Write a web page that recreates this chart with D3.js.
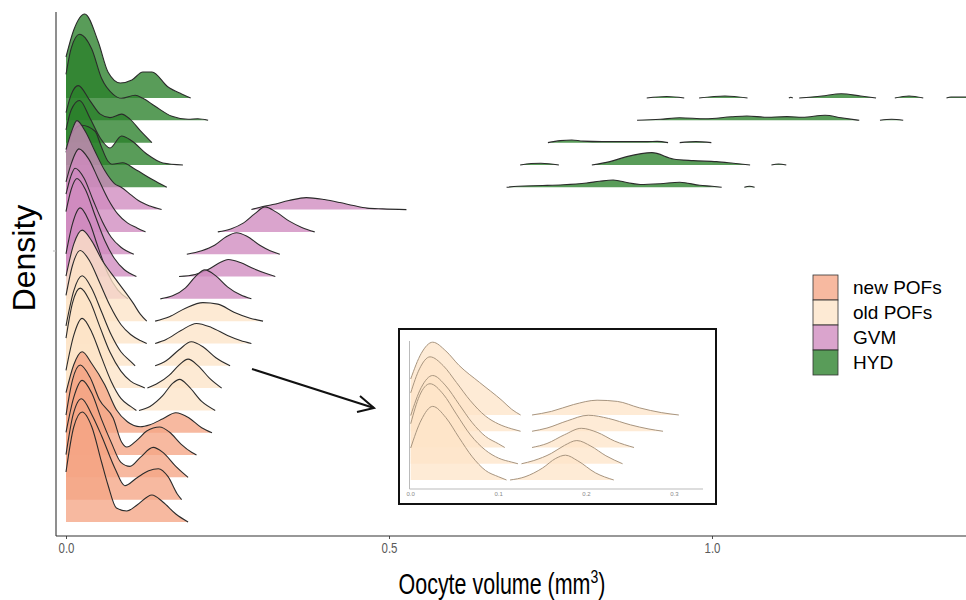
<!DOCTYPE html>
<html>
<head>
<meta charset="utf-8">
<script src="https://cdn.jsdelivr.net/npm/d3@7"></script>
<style>
  body { margin: 0; background: #fff; }
  text { font-family: "Liberation Sans", Arial, sans-serif; }
</style>
</head>
<body>
<svg class="ridges" width="966" height="600"></svg>
<script>
// legend groups, top to bottom
let groups = ["new POFs", "old POFs", "GVM", "HYD"];
let groupFill = ["#f5a585", "#fde4c8", "#d08abf", "#2a802a"];

// ridge rows, top to bottom, and the group of each
let rowNames = ["HYD1", "HYD2", "HYD3", "HYD4", "HYD5",
                "GVM1", "GVM2", "GVM3", "GVM4", "GVM5",
                "OP1", "OP2", "OP3", "OP4", "OP5",
                "NP1", "NP2", "NP3", "NP4", "NP5"];
let rowGroup = ["HYD", "HYD", "HYD", "HYD", "HYD",
                "GVM", "GVM", "GVM", "GVM", "GVM",
                "old POFs", "old POFs", "old POFs", "old POFs", "old POFs",
                "new POFs", "new POFs", "new POFs", "new POFs", "new POFs"];

let xTicks = [0, 0.5, 1.0];
let insetTicks = [0, 0.1, 0.2, 0.3];

// each ridge = list of segments, each segment = [volume (mm3), density]
let hyd1 = [
  [[0, 8.2], [0.012, 13.6], [0.029, 16.8], [0.05, 11.2], [0.065, 5.2], [0.084, 3.0], [0.102, 3.6], [0.119, 5.2], [0.133, 5.2], [0.158, 2.2], [0.179, 0.8], [0.193, 0]],
  [[0.899, 0], [0.93, 0.3], [0.957, 0]],
  [[0.98, 0], [1.02, 0.4], [1.055, 0]],
  [[1.119, 0], [1.122, 0.15], [1.125, 0]],
  [[1.135, 0], [1.17, 0.4], [1.2, 0.86], [1.23, 0.4], [1.254, 0]],
  [[1.283, 0], [1.305, 0.4], [1.327, 0]],
  [[1.363, 0], [1.37, 0.2], [1.40, 0.2]]
];
let hyd2 = [
  [[0, 9.2], [0.008, 14.4], [0.021, 17.2], [0.04, 14.2], [0.055, 8.4], [0.073, 5.2], [0.086, 4.4], [0.107, 5.0], [0.119, 4.4], [0.138, 2.8], [0.164, 0.8], [0.189, 0.2], [0.204, 0.3], [0.22, 0]],
  [[0.884, 0], [0.92, 0.2], [0.95, 0.5], [0.99, 0.3], [1.03, 0.7], [1.054, 0.86], [1.085, 0.6], [1.116, 0.74], [1.14, 0.6], [1.175, 1.0], [1.2, 0.5], [1.228, 0]],
  [[1.26, 0], [1.278, 0.2], [1.296, 0]]
];
let hyd3 = [
  [[0, 6.0], [0.008, 9.6], [0.019, 11.4], [0.037, 8.4], [0.053, 5.7], [0.068, 5.0], [0.086, 5.7], [0.099, 4.7], [0.115, 2.4], [0.133, 0]],
  [[0.746, 0], [0.765, 0.4], [0.783, 0.54], [0.80, 0.3], [0.83, 0.2], [0.87, 0.2], [0.90, 0.2], [0.915, 0.26], [0.932, 0]],
  [[0.95, 0], [0.975, 0.2], [0.999, 0]]
];
let hyd4 = [
  [[0, 7.0], [0.008, 11.0], [0.021, 12.9], [0.037, 9.4], [0.053, 5.4], [0.068, 3.4], [0.086, 5.8], [0.102, 4.8], [0.125, 2.2], [0.15, 0.4], [0.181, 0]],
  [[0.703, 0], [0.72, 0.3], [0.735, 0.34], [0.763, 0]],
  [[0.814, 0], [0.842, 0.66], [0.868, 1.66], [0.907, 2.46], [0.94, 1.2], [0.971, 0.86], [1.007, 0.66], [1.033, 0.34], [1.059, 0]],
  [[1.092, 0], [1.103, 0.2], [1.115, 0]]
];
let hyd5 = [
  [[0, 7.0], [0.01, 11.0], [0.024, 12.4], [0.045, 11.2], [0.055, 8.0], [0.065, 5.2], [0.071, 4.6], [0.088, 4.9], [0.107, 3.6], [0.133, 1.6], [0.156, 0]],
  [[0.682, 0], [0.70, 0.2], [0.738, 0.34], [0.77, 0.5], [0.806, 0.86], [0.826, 1.2], [0.847, 1.46], [0.87, 0.9], [0.889, 0.54], [0.92, 0.7], [0.95, 1.0], [0.981, 0.4], [1.0, 0.2], [1.015, 0]],
  [[1.05, 0], [1.058, 0.2], [1.066, 0]]
];
let gvm1 = [
  [[0, 12.0], [0.008, 15.4], [0.017, 17.8], [0.03, 15.6], [0.045, 11.6], [0.06, 7.8], [0.075, 5.2], [0.086, 4.4], [0.1, 3.0], [0.112, 1.8], [0.13, 0.7], [0.148, 0]],
  [[0.287, 0], [0.305, 0.6], [0.32, 1.0], [0.345, 1.8], [0.372, 2.4], [0.40, 2.0], [0.424, 1.4], [0.445, 0.8], [0.466, 0.3], [0.49, 0.15], [0.527, 0]]
];
let gvm2 = [
  [[0, 10.0], [0.008, 13.6], [0.02, 16.6], [0.035, 14.6], [0.05, 10.6], [0.065, 6.6], [0.08, 3.6], [0.095, 1.8], [0.11, 0.8], [0.123, 0]],
  [[0.235, 0], [0.255, 0.6], [0.275, 1.8], [0.292, 3.6], [0.308, 5.0], [0.325, 4.0], [0.345, 2.2], [0.365, 0.9], [0.385, 0]]
];
let gvm3 = [
  [[0, 12.0], [0.007, 15.4], [0.014, 17.2], [0.028, 15.2], [0.042, 10.8], [0.056, 6.6], [0.07, 3.4], [0.085, 1.4], [0.105, 0]],
  [[0.187, 0], [0.21, 0.7], [0.23, 1.8], [0.248, 3.5], [0.264, 4.3], [0.28, 3.6], [0.3, 1.8], [0.316, 0.7], [0.331, 0]]
];
let gvm4 = [
  [[0, 13.0], [0.008, 17.4], [0.017, 19.6], [0.03, 17.4], [0.045, 12.2], [0.06, 7.2], [0.075, 3.6], [0.09, 1.4], [0.109, 0]],
  [[0.175, 0], [0.2, 0.4], [0.22, 1.4], [0.24, 2.9], [0.251, 3.4], [0.27, 2.8], [0.29, 1.6], [0.31, 0.6], [0.324, 0]]
];
let gvm5 = [
  [[0, 9.0], [0.01, 15.0], [0.022, 18.2], [0.036, 15.4], [0.05, 10.2], [0.065, 5.0], [0.08, 1.8], [0.096, 0]],
  [[0.146, 0], [0.165, 0.6], [0.185, 2.2], [0.2, 4.4], [0.215, 5.8], [0.232, 4.6], [0.25, 2.4], [0.27, 0.8], [0.287, 0]]
];
let op1 = [
  [[0, 9.0], [0.012, 15.4], [0.025, 18.2], [0.04, 16.0], [0.055, 12.4], [0.078, 8.2], [0.104, 3.6], [0.115, 1.4], [0.125, 0]],
  [[0.138, 0], [0.16, 0.9], [0.185, 2.6], [0.212, 3.7], [0.235, 3.4], [0.26, 1.8], [0.285, 0.6], [0.305, 0]]
];
let op2 = [
  [[0, 9.6], [0.01, 15.6], [0.022, 18.6], [0.037, 16.4], [0.052, 12.2], [0.068, 7.6], [0.085, 3.8], [0.1, 1.8], [0.115, 0.6], [0.125, 0]],
  [[0.138, 0], [0.155, 0.8], [0.178, 2.6], [0.202, 4.0], [0.225, 3.2], [0.25, 1.6], [0.27, 0.6], [0.287, 0]]
];
let op3 = [
  [[0, 8.0], [0.012, 15.0], [0.025, 18.0], [0.04, 15.4], [0.055, 10.8], [0.07, 6.2], [0.085, 2.8], [0.1, 0.9], [0.107, 0]],
  [[0.138, 0], [0.155, 1.0], [0.175, 3.2], [0.194, 4.8], [0.212, 3.8], [0.232, 1.6], [0.254, 0]]
];
let op4 = [
  [[0, 10.0], [0.01, 17.0], [0.022, 20.0], [0.037, 17.4], [0.052, 12.4], [0.068, 7.2], [0.085, 3.4], [0.1, 1.4], [0.115, 0.4], [0.122, 0]],
  [[0.126, 0], [0.14, 0.8], [0.16, 2.6], [0.175, 4.6], [0.189, 5.8], [0.205, 4.4], [0.222, 2.0], [0.241, 0]]
];
let op5 = [
  [[0, 8.0], [0.012, 15.0], [0.025, 18.4], [0.04, 15.6], [0.055, 10.6], [0.07, 5.8], [0.085, 2.4], [0.1, 0.8], [0.109, 0]],
  [[0.113, 0], [0.13, 0.8], [0.15, 3.0], [0.165, 5.4], [0.176, 6.2], [0.19, 4.8], [0.21, 1.8], [0.231, 0]]
];
let np1 = [
  [[0, 8.0], [0.012, 13.6], [0.025, 16.2], [0.04, 13.8], [0.06, 9.6], [0.078, 4.6], [0.095, 2.2], [0.115, 1.2], [0.13, 1.6], [0.15, 2.8], [0.17, 4.0], [0.19, 3.0], [0.21, 1.0], [0.226, 0]]
];
let np2 = [
  [[0, 8.0], [0.01, 15.0], [0.022, 18.0], [0.037, 15.6], [0.052, 11.0], [0.073, 7.4], [0.086, 2.6], [0.094, 1.6], [0.11, 3.0], [0.125, 4.8], [0.145, 5.6], [0.16, 4.6], [0.178, 2.2], [0.195, 0.5], [0.202, 0]]
];
let np3 = [
  [[0, 9.0], [0.012, 16.0], [0.025, 19.4], [0.04, 16.8], [0.055, 11.6], [0.07, 7.0], [0.085, 3.0], [0.099, 2.2], [0.115, 4.0], [0.135, 6.0], [0.15, 5.0], [0.17, 2.2], [0.18, 1.0], [0.189, 0]]
];
let np4 = [
  [[0, 9.0], [0.011, 17.0], [0.024, 20.2], [0.04, 17.0], [0.055, 12.8], [0.076, 6.2], [0.091, 2.8], [0.11, 4.4], [0.128, 5.8], [0.143, 6.2], [0.158, 4.6], [0.172, 1.2], [0.179, 0]]
];
let np5 = [
  [[0, 10.0], [0.012, 19.0], [0.025, 22.0], [0.04, 19.0], [0.055, 12.0], [0.065, 7.4], [0.078, 2.8], [0.094, 2.2], [0.11, 3.4], [0.133, 5.4], [0.15, 4.0], [0.17, 1.6], [0.189, 0]]
];

let ridges = [hyd1, hyd2, hyd3, hyd4, hyd5,
              gvm1, gvm2, gvm3, gvm4, gvm5,
              op1, op2, op3, op4, op5,
              np1, np2, np3, np4, np5];

let insetNames = ["OP1", "OP2", "OP3", "OP4", "OP5"];
let insetRidges = [op1, op2, op3, op4, op5];

let svg = d3.select("body").select(".ridges");

let margin = { top: 12, right: 0, bottom: 64, left: 56 };
let plotRight = 966;
let plotBottom = 600 - margin.bottom;   // 536

let color = d3.scaleOrdinal().domain(groups).range(groupFill);

let x = d3.scaleLinear().domain([0, 1.3932]).range([66, plotRight]);
let yRow = d3.scalePoint().domain(rowNames).range([98, 522]);
let h = d3.scaleLinear().domain([0, 20]).range([0, 100]);

svg.append("defs").append("clipPath").attr("id", "panel")
  .append("rect")
  .attr("x", margin.left).attr("y", 0)
  .attr("width", plotRight - margin.left).attr("height", plotBottom);

let plot = svg.append("g").attr("id", "plot").attr("clip-path", "url(#panel)");

// back to front: top row first
ridges.forEach(function(segs, i) {
  let base = yRow(rowNames[i]);
  let area = d3.area().curve(d3.curveMonotoneX)
    .x(d => x(d[0])).y0(base).y1(d => base - h(d[1]));
  let line = d3.line().curve(d3.curveMonotoneX)
    .x(d => x(d[0])).y(d => base - h(d[1]));
  let row = plot.append("g").attr("class", "ridge");
  row.selectAll("path.fill").data(segs).join("path")
    .attr("class", "fill")
    .attr("d", area)
    .attr("fill", color(rowGroup[i]))
    .attr("fill-opacity", 0.78);
  row.selectAll("path.edge").data(segs).join("path")
    .attr("class", "edge")
    .attr("d", line)
    .attr("fill", "none")
    .attr("stroke", "#2b2b2b")
    .attr("stroke-width", 1.1);
});

// axes
let axisG = svg.append("g").attr("id", "x-axis")
  .attr("transform", translate(0, plotBottom))
  .call(d3.axisBottom(x).tickValues(xTicks).tickFormat(d3.format(".1f")).tickSize(3).tickPadding(4));
axisG.select(".domain").remove();
axisG.selectAll(".tick line").attr("stroke", "#4d4d4d");
axisG.selectAll("text").attr("fill", "#5a5a5a").style("font-size", "14px")
  .attr("transform", "scale(0.82,1)");

svg.append("line")
  .attr("x1", margin.left).attr("x2", plotRight)
  .attr("y1", plotBottom).attr("y2", plotBottom)
  .attr("stroke", "#333").attr("stroke-width", 1.1);
svg.append("line")
  .attr("x1", margin.left).attr("x2", margin.left)
  .attr("y1", margin.top).attr("y2", plotBottom)
  .attr("stroke", "#333").attr("stroke-width", 1.1);
svg.append("line")
  .attr("x1", margin.left - 3).attr("x2", margin.left)
  .attr("y1", 251).attr("y2", 251)
  .attr("stroke", "#bbb").attr("stroke-width", 1);

// axis titles
let xTitle = svg.append("text")
  .attr("transform", translate(502, 594) + " scale(0.74,1)")
  .attr("text-anchor", "middle")
  .style("font-size", "29px")
  .text("Oocyte volume (mm");
xTitle.append("tspan").attr("dy", -11).style("font-size", "19px").text("3");
xTitle.append("tspan").attr("dy", 11).text(")");

svg.append("text")
  .attr("transform", translate(35, 258) + " rotate(-90)")
  .attr("text-anchor", "middle")
  .style("font-size", "32px")
  .text("Density");

// legend
let legend = svg.append("g").attr("id", "legend").attr("transform", translate(813, 275));
legend.selectAll("rect").data(groups).join("rect")
  .attr("x", 0).attr("y", (d, i) => i * 25)
  .attr("width", 25).attr("height", 25)
  .attr("fill", d => color(d)).attr("fill-opacity", 0.78)
  .attr("stroke", "#333").attr("stroke-width", 0.8);
legend.selectAll("text").data(groups).join("text")
  .attr("x", 40).attr("y", (d, i) => i * 25 + 12.5)
  .attr("dy", "0.35em")
  .style("font-size", "19px")
  .text(d => d);

// arrow to the inset
let arrow = svg.append("g").attr("id", "arrow")
  .attr("stroke", "#111").attr("stroke-width", 2).attr("fill", "none");
arrow.append("line").attr("x1", 252).attr("y1", 369).attr("x2", 374).attr("y2", 408);
arrow.append("path").attr("d", "M360,396 L374,408 L357,412");

// inset: old POFs zoomed
let inset = svg.append("g").attr("id", "inset");
inset.append("rect")
  .attr("x", 399).attr("y", 329).attr("width", 317).attr("height", 175)
  .attr("fill", "#fff").attr("stroke", "#111").attr("stroke-width", 2);

let xi = d3.scaleLinear().domain([0, 0.3336]).range([410.7, 704]);
let yi = d3.scalePoint().domain(insetNames).range([415, 480]);
let hi = d3.scaleLinear().domain([0, 20]).range([0, 80]);

insetRidges.forEach(function(segs, i) {
  let base = yi(insetNames[i]);
  let area = d3.area().curve(d3.curveMonotoneX)
    .x(d => xi(d[0])).y0(base).y1(d => base - hi(d[1]));
  let line = d3.line().curve(d3.curveMonotoneX)
    .x(d => xi(d[0])).y(d => base - hi(d[1]));
  inset.append("g").selectAll("path").data(segs).join("path")
    .attr("d", area).attr("fill", color("old POFs")).attr("fill-opacity", 0.75);
  inset.append("g").selectAll("path").data(segs).join("path")
    .attr("d", line).attr("fill", "none")
    .attr("stroke", "#a8957f").attr("stroke-width", 1);
});

inset.append("line")
  .attr("x1", 409.5).attr("x2", 409.5).attr("y1", 341).attr("y2", 489)
  .attr("stroke", "#bbb").attr("stroke-width", 1);
inset.append("line")
  .attr("x1", 409.5).attr("x2", 703).attr("y1", 489).attr("y2", 489)
  .attr("stroke", "#bbb").attr("stroke-width", 1);
inset.selectAll("text.tick").data(insetTicks).join("text")
  .attr("class", "tick")
  .attr("x", d => xi(d)).attr("y", 496)
  .attr("text-anchor", "middle")
  .attr("fill", "#888")
  .style("font-size", "6px")
  .text(d3.format(".1f"));

function translate(x, y) {
  return 'translate(' + x + ',' + y + ')';
}
</script>
</body>
</html>
